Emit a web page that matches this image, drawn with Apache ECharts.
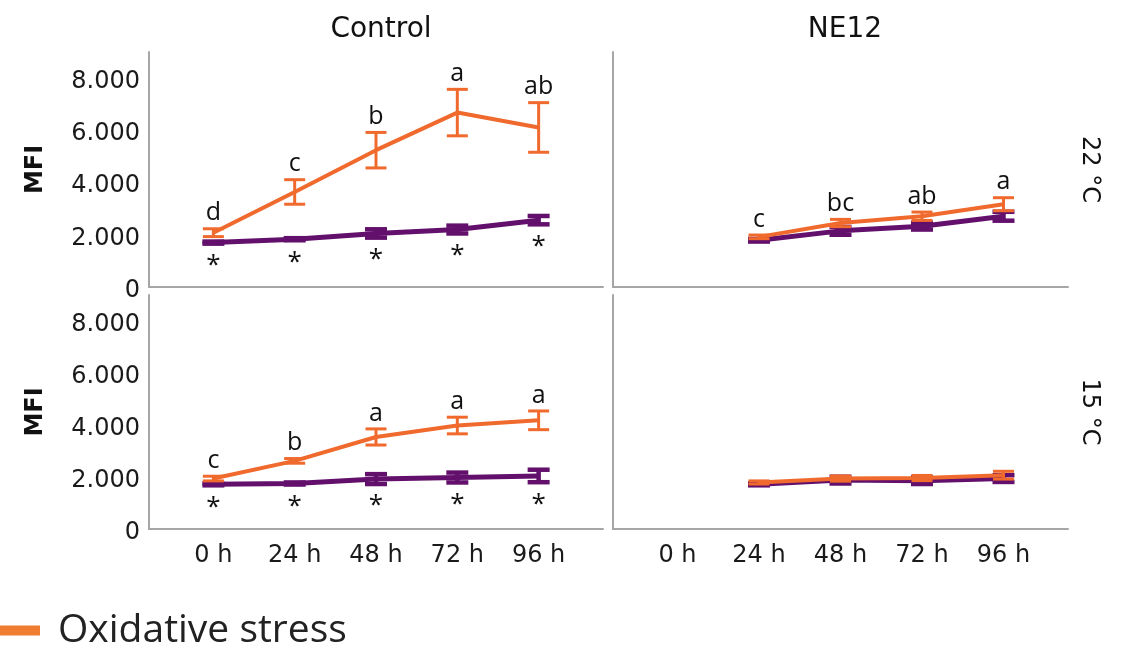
<!DOCTYPE html>
<html>
<head>
<meta charset="utf-8">
<script src="https://cdn.jsdelivr.net/npm/echarts@6/dist/echarts.min.js"></script>
<style>
html,body{margin:0;padding:0;background:#fff;}
#chart{width:1128px;height:649px;}
</style>
</head>
<body>
<div id="chart"></div>
<script>
// ---------- data ----------
const hours = [0, 24, 48, 72, 96];
const hourLabels = ['0 h', '24 h', '48 h', '72 h', '96 h'];
const yTicks = [0, 2000, 4000, 6000, 8000];
const yTickLabels = ['0', '2.000', '4.000', '6.000', '8.000'];
const panelTitles = ['Control', 'NE12'];
const rowTitles = ['22 °C', '15 °C'];
const legendName = 'Oxidative stress';
const controlName = 'Control';

// Control strain, 22 °C
const ctrl22Ox = [2080, 3640, 5240, 6680, 6110];
const ctrl22OxErr = [150, 470, 680, 890, 950];
const ctrl22Ct = [1700, 1830, 2050, 2200, 2560];
const ctrl22CtErr = [40, 40, 160, 150, 160];
const ctrl22Letters = ['d', 'c', 'b', 'a', 'ab'];
const ctrl22Stars = ['*', '*', '*', '*', '*'];

// NE12, 22 °C
const ne22Ox = [null, 1920, 2450, 2710, 3170];
const ne22OxErr = [null, 70, 140, 160, 250];
const ne22Ct = [null, 1790, 2150, 2330, 2710];
const ne22CtErr = [null, 50, 150, 130, 170];
const ne22Letters = [null, 'c', 'bc', 'ab', 'a'];
const ne22Stars = [null, null, null, null, null];

// Control strain, 15 °C
const ctrl15Ox = [1940, 2620, 3540, 3980, 4180];
const ctrl15OxErr = [90, 90, 310, 320, 360];
const ctrl15Ct = [1720, 1750, 1920, 1980, 2040];
const ctrl15CtErr = [40, 40, 190, 190, 240];
const ctrl15Letters = ['c', 'b', 'a', 'a', 'a'];
const ctrl15Stars = ['*', '*', '*', '*', '*'];

// NE12, 15 °C
const ne15Ox = [null, 1790, 1940, 1960, 2070];
const ne15OxErr = [null, 60, 100, 100, 150];
const ne15Ct = [null, 1720, 1880, 1860, 1940];
const ne15CtErr = [null, 40, 130, 130, 130];
const ne15Letters = [null, null, null, null, null];
const ne15Stars = [null, null, null, null, null];

// ---------- styling ----------
const ORANGE = '#F06A2E';
const LEGEND_ORANGE = '#EE7D31';
const PURPLE = '#62106C';
const AXIS = '#A6A6A6';
const SANS = 'DejaVu Sans';
const LETTER_FONT = 'Open Sans';

const panels = [
  {ox: ctrl22Ox, oxErr: ctrl22OxErr, ct: ctrl22Ct, ctErr: ctrl22CtErr, letters: ctrl22Letters, stars: ctrl22Stars},
  {ox: ne22Ox, oxErr: ne22OxErr, ct: ne22Ct, ctErr: ne22CtErr, letters: ne22Letters, stars: ne22Stars},
  {ox: ctrl15Ox, oxErr: ctrl15OxErr, ct: ctrl15Ct, ctErr: ctrl15CtErr, letters: ctrl15Letters, stars: ctrl15Stars},
  {ox: ne15Ox, oxErr: ne15OxErr, ct: ne15Ct, ctErr: ne15CtErr, letters: ne15Letters, stars: ne15Stars}
];

const gridBoxes = [
  {left: 149, top: 52, width: 454, height: 235},
  {left: 613, top: 52, width: 455, height: 235},
  {left: 149, top: 295, width: 454, height: 234},
  {left: 613, top: 295, width: 455, height: 234}
];

function pts(vals) {
  return hours.map((h, i) => [h, vals[i]]).filter(d => d[1] != null);
}
function errPts(vals, errs) {
  return hours.map((h, i) => vals[i] == null ? null : [h, vals[i] - errs[i], vals[i] + errs[i]]).filter(d => d);
}
function textPts(vals, errs, texts, upper) {
  return hours.map((h, i) => (vals[i] == null || texts[i] == null) ? null :
    [h, upper ? vals[i] + errs[i] : vals[i] - errs[i], texts[i]]).filter(d => d);
}

function errRender(capW, lw, color) {
  return function (params, api) {
    const x = api.value(0);
    const pLo = api.coord([x, api.value(1)]);
    const pHi = api.coord([x, api.value(2)]);
    const h = capW / 2;
    const st = {stroke: color, lineWidth: lw};
    return {
      type: 'group',
      children: [
        {type: 'line', shape: {x1: pLo[0], y1: pLo[1], x2: pHi[0], y2: pHi[1]}, style: st},
        {type: 'line', shape: {x1: pLo[0] - h, y1: pLo[1], x2: pLo[0] + h, y2: pLo[1]}, style: st},
        {type: 'line', shape: {x1: pHi[0] - h, y1: pHi[1], x2: pHi[0] + h, y2: pHi[1]}, style: st}
      ]
    };
  };
}
function textRender(above) {
  return function (params, api) {
    const p = api.coord([api.value(0), api.value(1)]);
    return {
      type: 'text',
      x: p[0],
      y: above ? p[1] - 3 : p[1] + 9,
      style: {
        text: api.value(2),
        align: 'center',
        verticalAlign: above ? 'bottom' : 'top',
        fontFamily: LETTER_FONT,
        fontSize: above ? 25 : 26,
        fill: '#111'
      }
    };
  };
}

const grids = gridBoxes.map(b => Object.assign({containLabel: false}, b));

const xAxes = gridBoxes.map((b, i) => ({
  type: 'value',
  gridIndex: i,
  min: -19,
  max: 115,
  splitLine: {show: false},
  axisTick: {show: false},
  axisLine: {show: true, onZero: false, lineStyle: {color: AXIS, width: 2}},
  axisLabel: {
    show: i >= 2,
    customValues: hours,
    formatter: v => hourLabels[hours.indexOf(v)] || '',
    fontFamily: SANS,
    fontSize: 24,
    color: '#1a1a1a',
    margin: 15
  }
}));

const yAxes = gridBoxes.map((b, i) => ({
  type: 'value',
  gridIndex: i,
  min: 0,
  max: 9000,
  splitLine: {show: false},
  axisTick: {show: false},
  axisLine: {show: true, onZero: false, lineStyle: {color: AXIS, width: 2}},
  name: (i % 2 === 0) ? 'MFI' : '',
  nameLocation: 'middle',
  nameRotate: 90,
  nameGap: 101,
  nameTextStyle: {fontFamily: SANS, fontWeight: 'bold', fontSize: 24, color: '#111'},
  axisLabel: {
    show: i % 2 === 0,
    customValues: yTicks,
    formatter: v => '{v|' + (yTickLabels[yTicks.indexOf(v)] || '') + '}',
    margin: 9,
    rich: {
      v: {fontFamily: SANS, fontSize: 24, color: '#1a1a1a', padding: [7, 0, 0, 0]}
    }
  }
}));
// right-hand row titles
[1, 3].forEach((gi, r) => {
  yAxes.push({
    type: 'value',
    gridIndex: gi,
    position: 'right',
    min: 0,
    max: 9000,
    splitLine: {show: false},
    axisTick: {show: false},
    axisLine: {show: false},
    axisLabel: {show: false},
    name: rowTitles[r],
    nameLocation: 'middle',
    nameRotate: -90,
    nameGap: 9,
    nameTextStyle: {fontFamily: SANS, fontSize: 24, color: '#111'}
  });
});

const series = [];
panels.forEach((p, i) => {
  const ax = {xAxisIndex: i, yAxisIndex: i};
  series.push(Object.assign({
    type: 'custom', name: controlName + ' err' + i, z: 2, silent: true,
    renderItem: errRender(22, 4.5, PURPLE),
    encode: {x: 0, y: [1, 2]},
    data: errPts(p.ct, p.ctErr)
  }, ax));
  series.push(Object.assign({
    type: 'line', name: controlName, z: 3, symbol: 'none', silent: true,
    lineStyle: {color: PURPLE, width: 5},
    itemStyle: {color: PURPLE},
    data: pts(p.ct)
  }, ax));
  series.push(Object.assign({
    type: 'custom', name: legendName + ' err' + i, z: 4, silent: true,
    renderItem: errRender(21, 3, ORANGE),
    encode: {x: 0, y: [1, 2]},
    data: errPts(p.ox, p.oxErr)
  }, ax));
  series.push(Object.assign({
    type: 'line', name: legendName, z: 5, symbol: 'none', silent: true,
    lineStyle: {color: ORANGE, width: 4},
    itemStyle: {color: ORANGE},
    data: pts(p.ox)
  }, ax));
  series.push(Object.assign({
    type: 'custom', name: 'letters' + i, z: 6, silent: true,
    renderItem: textRender(true),
    encode: {x: 0, y: 1},
    data: textPts(p.ox, p.oxErr, p.letters, true)
  }, ax));
  series.push(Object.assign({
    type: 'custom', name: 'stars' + i, z: 6, silent: true,
    renderItem: textRender(false),
    encode: {x: 0, y: 1},
    data: textPts(p.ct, p.ctErr, p.stars, false)
  }, ax));
});

const option = {
  backgroundColor: '#fff',
  animation: false,
  title: [
    {text: panelTitles[0], left: 376, top: 11, textAlign: 'center',
     textStyle: {fontFamily: SANS, fontSize: 28, fontWeight: 'normal', color: '#111'}},
    {text: panelTitles[1], left: 840, top: 11, textAlign: 'center',
     textStyle: {fontFamily: SANS, fontSize: 28, fontWeight: 'normal', color: '#111'}}
  ],
  legend: {
    left: 0,
    top: 611,
    padding: 0,
    data: [{name: legendName, icon: 'rect', itemStyle: {color: LEGEND_ORANGE}}],
    itemWidth: 40,
    itemHeight: 10,
    selectedMode: false,
    textStyle: {fontFamily: LETTER_FONT, fontSize: 39, color: '#222', padding: [0, 0, 0, 13]}
  },
  grid: grids,
  xAxis: xAxes,
  yAxis: yAxes,
  series: series
};

const chart = echarts.init(document.getElementById('chart'), null, {renderer: 'canvas'});
chart.setOption(option);
</script>
</body>
</html>
